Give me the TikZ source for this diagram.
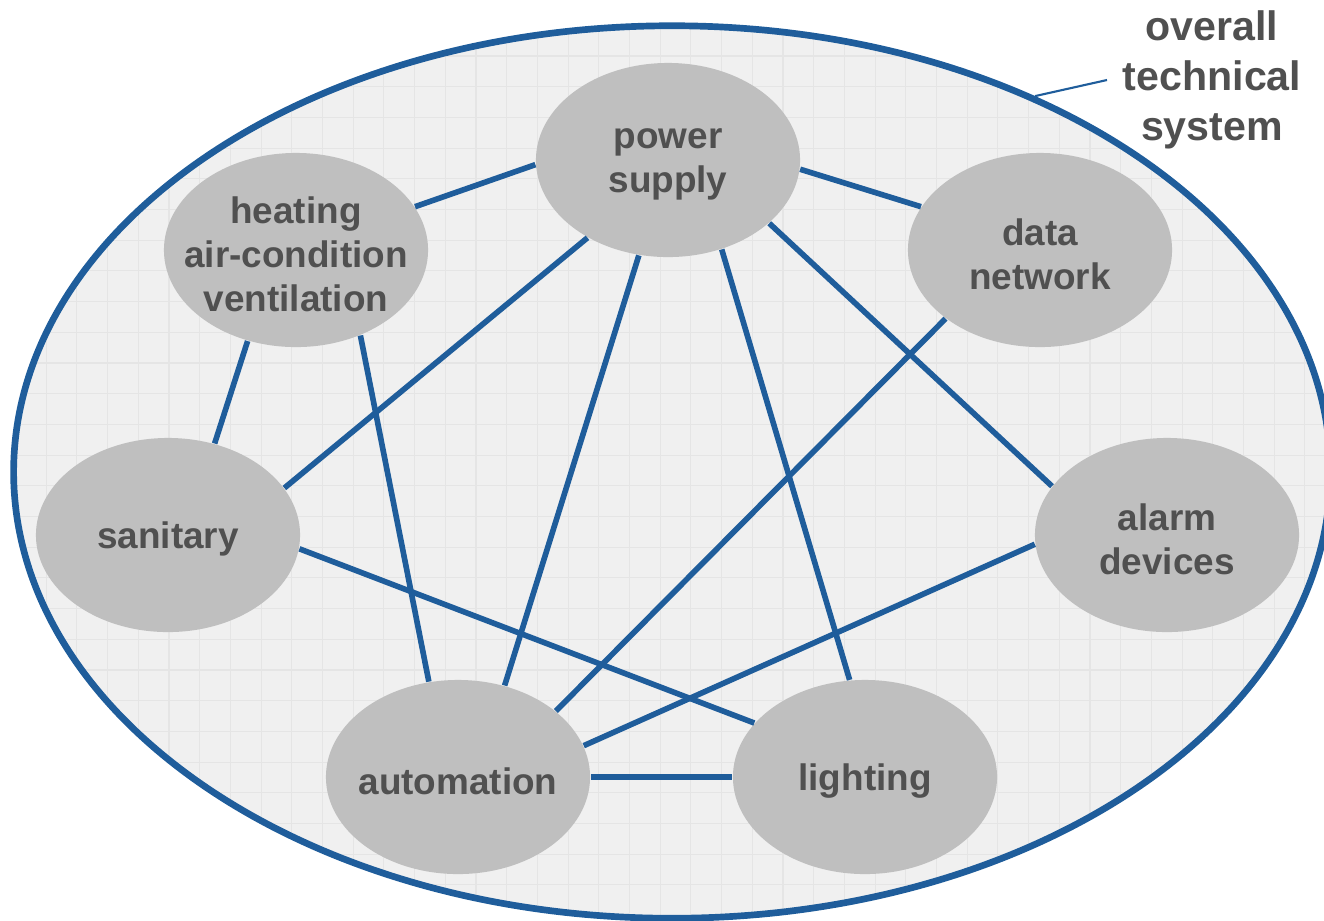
\documentclass[tikz,border=0pt]{standalone}
\usepackage{fontspec}
\setmainfont{Liberation Sans}
\usepackage{tikz}
\usetikzlibrary{shapes.geometric, positioning, calc}
\usepackage{xcolor}

\definecolor{linkblue}{RGB}{31,93,155}
\definecolor{nodegray}{RGB}{191,191,191}
\definecolor{backgray}{RGB}{240,240,240}
\definecolor{gridgray}{RGB}{229,229,229}
\definecolor{textgray}{RGB}{80,80,80}

\begin{document}
\begin{tikzpicture}[x=0.01cm, y=-0.01cm,
    sysnode/.style={ellipse, fill=nodegray, minimum width=2.64cm, minimum height=1.94cm, inner sep=0pt},
    systext/.style={align=center, text=textgray, yshift=-1.2pt, font=\fontsize{10.5pt}{12.5pt}\selectfont\bfseries},
    link/.style={linkblue, line width=1.6pt},
    gridline/.style={gridgray, line width=0.3pt}]

    \useasboundingbox (0,0) rectangle (1324,920);

    % overall system
    \fill[backgray] (672,472) ellipse (658 and 446);
    \begin{scope}
      \clip (672,472) ellipse (658 and 446);
      \foreach \i in {0,...,43} {
        \draw[gridline] (15.5+\i*30.7,20) --++(0,900);
      }
      \foreach \j in {0,...,29} {
        \draw[gridline] (10,25.3+\j*30.7) --++(1320,0);
      }
    \end{scope}
    \node[ellipse, draw=linkblue, line width=1.9pt, minimum width=13.16cm, minimum height=8.92cm, inner sep=0pt] (all) at (672,472) {};

    \node[align=center, text=textgray, inner sep=4.3pt, font=\fontsize{11.7pt}{14.2pt}\selectfont\bfseries] (alltext) at (1212,80) {overall\\technical\\system};
    \draw[linkblue, line width=0.6pt] (all.46) -- (alltext.west);

    % subsystems
    \node[sysnode] (pw) at (668,160) {};
    \node[sysnode] (hv) at (296,250) {};
    \node[sysnode] (dn) at (1040,250) {};
    \node[sysnode] (sn) at (168,535) {};
    \node[sysnode] (al) at (1167,535) {};
    \node[sysnode] (au) at (458,777) {};
    \node[sysnode] (li) at (865,777) {};

    \node[systext] (pw-t) at (pw) {power\\supply};
    \node[systext] (hv-t) at (hv) {heating\\air-condition\\ventilation};
    \node[systext] (dn-t) at (dn) {data\\network};
    \node[systext] (sn-t) at (sn) {sanitary};
    \node[systext] (al-t) at (al) {alarm\\devices};
    \node[systext] (au-t) at (au) {automation};
    \node[systext] (li-t) at (li) {lighting};

    % links
    \draw[link] (pw.182) -- (hv.20);
    \draw[link] (pw.356) -- (dn.160);
    \draw[link] (pw.224) -- (sn.22);
    \draw[link] (pw.253) -- (au.63);
    \draw[link] (pw.301) -- (li.99);
    \draw[link] (pw.328) -- (al.157);
    \draw[link] (hv.242) -- (sn.63);
    \draw[link] (hv.307) -- (au.107);
    \draw[link] (dn.216) -- (au.34);
    \draw[link] (sn.354) -- (li.154);
    \draw[link] (al.184) -- (au.14);
    \draw[link] (au) -- (li);

  \end{tikzpicture}
\end{document}
